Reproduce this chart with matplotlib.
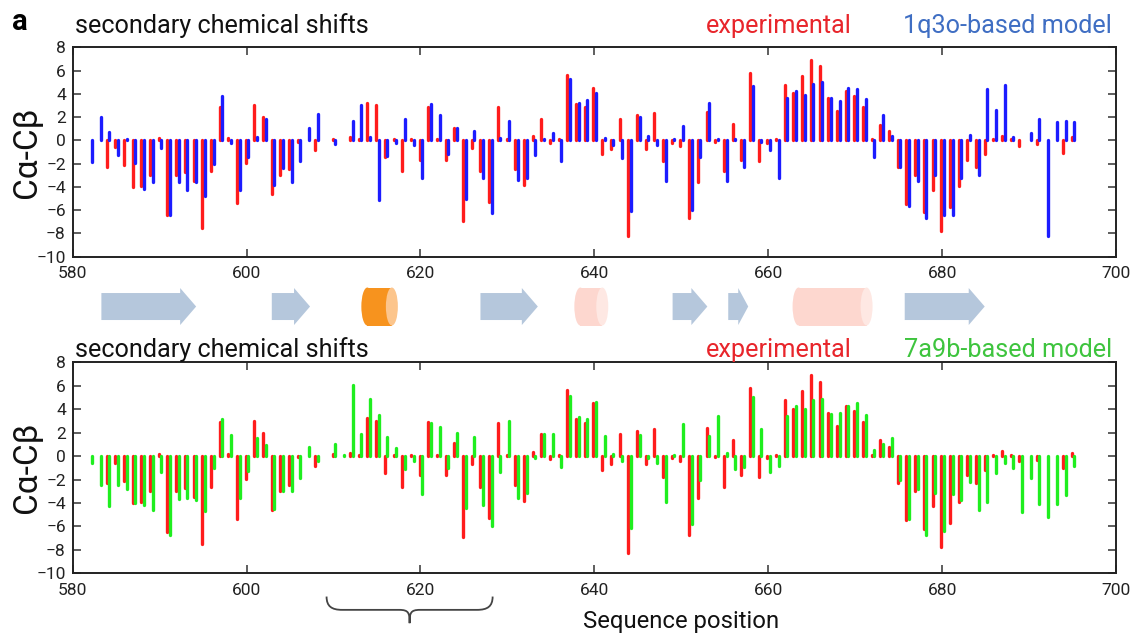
"""
Secondary chemical shifts (Ca-Cb) of experiment vs two structural models.
"""
import matplotlib.pyplot as plt
import numpy as np
from matplotlib.patches import Polygon, Rectangle, Ellipse, PathPatch
from matplotlib.path import Path

plt.rcParams['font.family'] = ['Roboto', 'DejaVu Sans']

# residue numbers and shift values
residues = np.arange(581, 696)

experimental = [
    0.0, 0.0, 0.0, -2.3, -0.55, -2.15, -4.0, -3.95, -2.95, 0.2,
    -6.45, -2.95, -2.75, -3.5, -7.5, -2.65, 2.9, 0.2, -5.35, -1.95,
    3.0, 2.0, -4.6, -2.95, -2.5, -0.1, 0.0, -0.85, 0.0, 0.15,
    0.0, 0.25, 0.1, 3.25, 3.0, -1.45, 0.1, -2.6, 0.1, -1.65,
    2.9, 0.1, -1.65, 1.1, -6.9, -0.65, -2.6, -5.3, 2.85, 0.1,
    -2.5, -3.8, 0.35, 1.85, -0.25, 0.1, 5.65, 3.15, 2.85, 4.5,
    -1.15, -0.7, 1.85, -8.25, 2.15, -0.7, 2.35, -1.8, -0.2, -0.45,
    -6.7, -3.6, 2.4, -0.1, -2.6, 1.4, -1.65, 5.8, -1.75, -0.2,
    0.1, 4.8, 4.05, 5.55, 6.9, 6.35, 3.65, 2.55, 4.25, 3.85,
    2.9, 0.1, 1.35, 0.8, -2.3, -5.45, -2.95, -6.2, -4.25, -7.75,
    -5.75, -3.95, -1.65, -2.3, -1.2, 0.1, 0.4, 0.1, -0.45, 0.0,
    -0.3, 0.0, 0.0, -1.05, 0.3,
]

model1q3o = [
    0.05, -1.85, 2.05, 0.7, -1.3, 0.1, -1.95, -4.2, -3.6, -0.65,
    -6.45, -3.6, -4.3, -3.6, -4.8, -2.0, 3.8, -0.2, -4.25, -1.45,
    0.25, 1.8, -3.8, -2.4, -3.6, -1.75, 1.1, 2.3, 0.0, -0.35,
    0.0, 1.7, 3.0, 0.25, -5.1, -1.35, -0.25, 1.8, -0.4, -3.2,
    3.15, 2.15, -1.15, 1.1, -5.05, 0.8, -3.25, -6.25, 0.2, 1.7,
    -3.4, -3.2, -1.3, 0.1, 0.65, -1.75, 5.25, 3.2, 3.5, 4.1,
    0.2, -0.4, -1.5, -6.05, 2.05, 0.35, -0.4, -3.5, 0.15, 1.2,
    -5.95, -1.4, 3.25, 0.1, -3.45, 0.15, -2.25, 4.65, -0.1, -0.8,
    -3.2, 3.6, 4.25, 3.9, 4.85, 5.0, 3.65, 3.4, 4.5, 4.45,
    3.55, -1.4, 2.15, 0.4, -2.25, -5.6, -3.45, -6.7, -3.0, -6.45,
    -6.4, -3.25, 0.5, -2.95, 4.4, 2.6, 4.75, 0.25, 0.05, 0.65,
    1.85, -8.25, 1.6, 1.7, 1.6,
]

model7a9b = [
    0.0, -0.55, -2.5, -4.3, -2.45, -2.8, -4.0, -4.2, -4.6, -1.35,
    -6.75, -3.65, -3.55, -3.75, -4.65, -1.0, 3.2, 1.8, -3.6, -1.25,
    1.5, 0.95, -4.5, -2.95, -2.95, -1.9, 0.8, -0.4, 0.0, 1.0,
    0.05, 6.1, 1.9, 4.85, 3.5, 1.65, 0.7, -1.1, -0.4, -3.2,
    2.8, 2.45, -1.0, 1.95, -4.45, 1.6, -4.2, -5.95, -1.4, 2.95,
    -3.6, -3.15, -0.2, 1.9, 1.9, -0.9, 5.1, 3.3, 3.15, 4.65,
    1.75, 0.15, -0.4, -6.1, 1.8, -0.2, -0.6, -3.95, 0.1, 2.75,
    -5.8, -2.0, 1.75, 3.45, 0.3, -1.1, -0.9, 5.0, 2.3, -1.35,
    -0.85, 3.45, 4.3, 4.05, 4.8, 4.9, 3.6, 3.65, 4.25, 4.5,
    3.5, 0.5, 1.0, 1.5, -2.0, -5.4, -2.8, -6.75, -3.15, -6.35,
    -3.25, -3.75, -2.2, -4.6, -3.95, -1.45, -0.55, -1.05, -4.75, -1.9,
    -4.1, -5.2, -4.1, -3.35, -0.85,
]

# secondary structure elements (start, end residue)
strands = [(583.3, 594.2), (602.9, 607.3), (626.9, 633.5),
           (649.0, 653.0), (655.4, 657.7), (675.7, 684.9)]
helices = [(613.2, 617.4), (637.7, 641.6), (662.8, 672.0)]
helixColours = [('#f7931e', '#fcc58c'), ('#fdd7cf', '#fee8e3'), ('#fdd7cf', '#fee8e3')]
braceRange = (609.2, 628.3)

RED = '#ff1c1c'
BLUE = '#1c1cff'
GREEN = '#1fee1f'

W, H = 1139, 640
PX_PER_RES = (1116.0 - 72.7) / 120


def axRect(left, top, right, bottom):
    """Axes rectangle in figure fractions from pixel edges."""
    return [left / W, 1 - bottom / H, (right - left) / W, (bottom - top) / H]


def figPos(x, y):
    return x / W, 1 - y / H


def drawPanel(ax, model, colour, modelName, nameColour, top):
    """
    Draws experimental vs model shifts as paired thin bars.
    """
    ax.vlines(residues - 0.1, 0, experimental, colors=RED, lw=2.4, capstyle='round')
    ax.vlines(residues + 0.2, 0, model, colors=colour, lw=2.4, capstyle='round')

    ax.set_xlim(580, 700)
    ax.set_ylim(-10, 8)
    ax.set_xticks(range(580, 701, 20))
    ax.set_yticks(range(-10, 9, 2))
    ax.tick_params(direction='in', top=True, right=True, length=6, width=1.1,
                   labelsize=12.5, color='#333333', labelcolor='#222222')
    ax.tick_params(axis='x', pad=7)
    ax.tick_params(axis='y', pad=5)
    for s in ax.spines.values():
        s.set_linewidth(1.4)
        s.set_color('#222222')
    ax.set_ylabel('Cα-Cβ', fontsize=24, color='#111111')
    ax.yaxis.set_label_coords(-0.028, 0.5)

    base = top - 14
    fig.text(*figPos(75, base), 'secondary chemical shifts', fontsize=18.2,
             color='#111111', va='baseline')
    fig.text(*figPos(852, base), 'experimental', fontsize=18.2,
             color='#e8252b', va='baseline', ha='right')
    fig.text(*figPos(1112, base), modelName, fontsize=18.2,
             color=nameColour, va='baseline', ha='right')


def drawStructure(ax):
    """
    Draws strands as arrows and helices as cylinders.
    """
    c = 2.70
    bh = 13.5 / PX_PER_RES
    hh = 18.5 / PX_PER_RES
    for x0, x1 in strands:
        head = min(16 / PX_PER_RES, 0.5 * (x1 - x0))
        xh = x1 - head
        pts = [(x0, c - bh), (xh, c - bh), (xh, c - hh), (x1, c),
               (xh, c + hh), (xh, c + bh), (x0, c + bh)]
        ax.add_patch(Polygon(pts, closed=True, facecolor='#b5c7dc', edgecolor='none'))

    ch = 19 / PX_PER_RES
    ew = 12 / PX_PER_RES
    for (x0, x1), (body, face) in zip(helices, helixColours):
        ax.add_patch(Rectangle((x0 + ew / 2, c - ch), x1 - x0 - ew, 2 * ch,
                               facecolor=body, edgecolor='none'))
        ax.add_patch(Ellipse((x0 + ew / 2, c), ew, 2 * ch, facecolor=body, edgecolor='none'))
        ax.add_patch(Ellipse((x1 - ew / 2, c), ew, 2 * ch, facecolor=face, edgecolor='none'))

    ax.set_xlim(580, 700)
    ax.set_ylim(0, 47 / PX_PER_RES)
    ax.axis('off')


def drawBrace(ax, start, end):
    mid = (start + end) / 2
    top, flat, tip = 0.88, 0.53, 0.18
    verts = [(start, top), (start, 0.62), (start + 0.6, flat), (start + 1.8, flat),
             (mid - 1.2, flat),
             (mid - 0.1, flat), (mid, 0.45), (mid, tip),
             (mid, 0.45), (mid + 0.1, flat), (mid + 1.2, flat),
             (end - 1.8, flat),
             (end - 0.6, flat), (end, 0.62), (end, top)]
    codes = [Path.MOVETO, Path.CURVE4, Path.CURVE4, Path.CURVE4,
             Path.LINETO,
             Path.CURVE4, Path.CURVE4, Path.CURVE4,
             Path.CURVE4, Path.CURVE4, Path.CURVE4,
             Path.LINETO,
             Path.CURVE4, Path.CURVE4, Path.CURVE4]
    ax.add_patch(PathPatch(Path(verts, codes), facecolor='none',
                           edgecolor='#444444', lw=1.3))
    ax.set_xlim(580, 700)
    ax.set_ylim(0, 1)
    ax.axis('off')


fig = plt.figure(figsize=(W / 100, H / 100), dpi=100)

axTop = fig.add_axes(axRect(72.7, 47.3, 1116, 256.7))
drawPanel(axTop, model1q3o, BLUE, '1q3o-based model', '#3f6ec3', 47.3)

axSS = fig.add_axes(axRect(72.7, 283, 1116, 330))
drawStructure(axSS)

axBot = fig.add_axes(axRect(72.7, 362.3, 1116, 573.3))
drawPanel(axBot, model7a9b, GREEN, '7a9b-based model', '#3ec43e', 371.3)

axBrace = fig.add_axes(axRect(72.7, 592, 1116, 630))
drawBrace(axBrace, *braceRange)

fig.text(*figPos(12, 30), 'a', fontsize=21, fontweight='bold', va='baseline')
fig.text(*figPos(681, 628), 'Sequence position', fontsize=17.2,
         color='#111111', ha='center', va='baseline')

fig.savefig('out.png', dpi=100)
